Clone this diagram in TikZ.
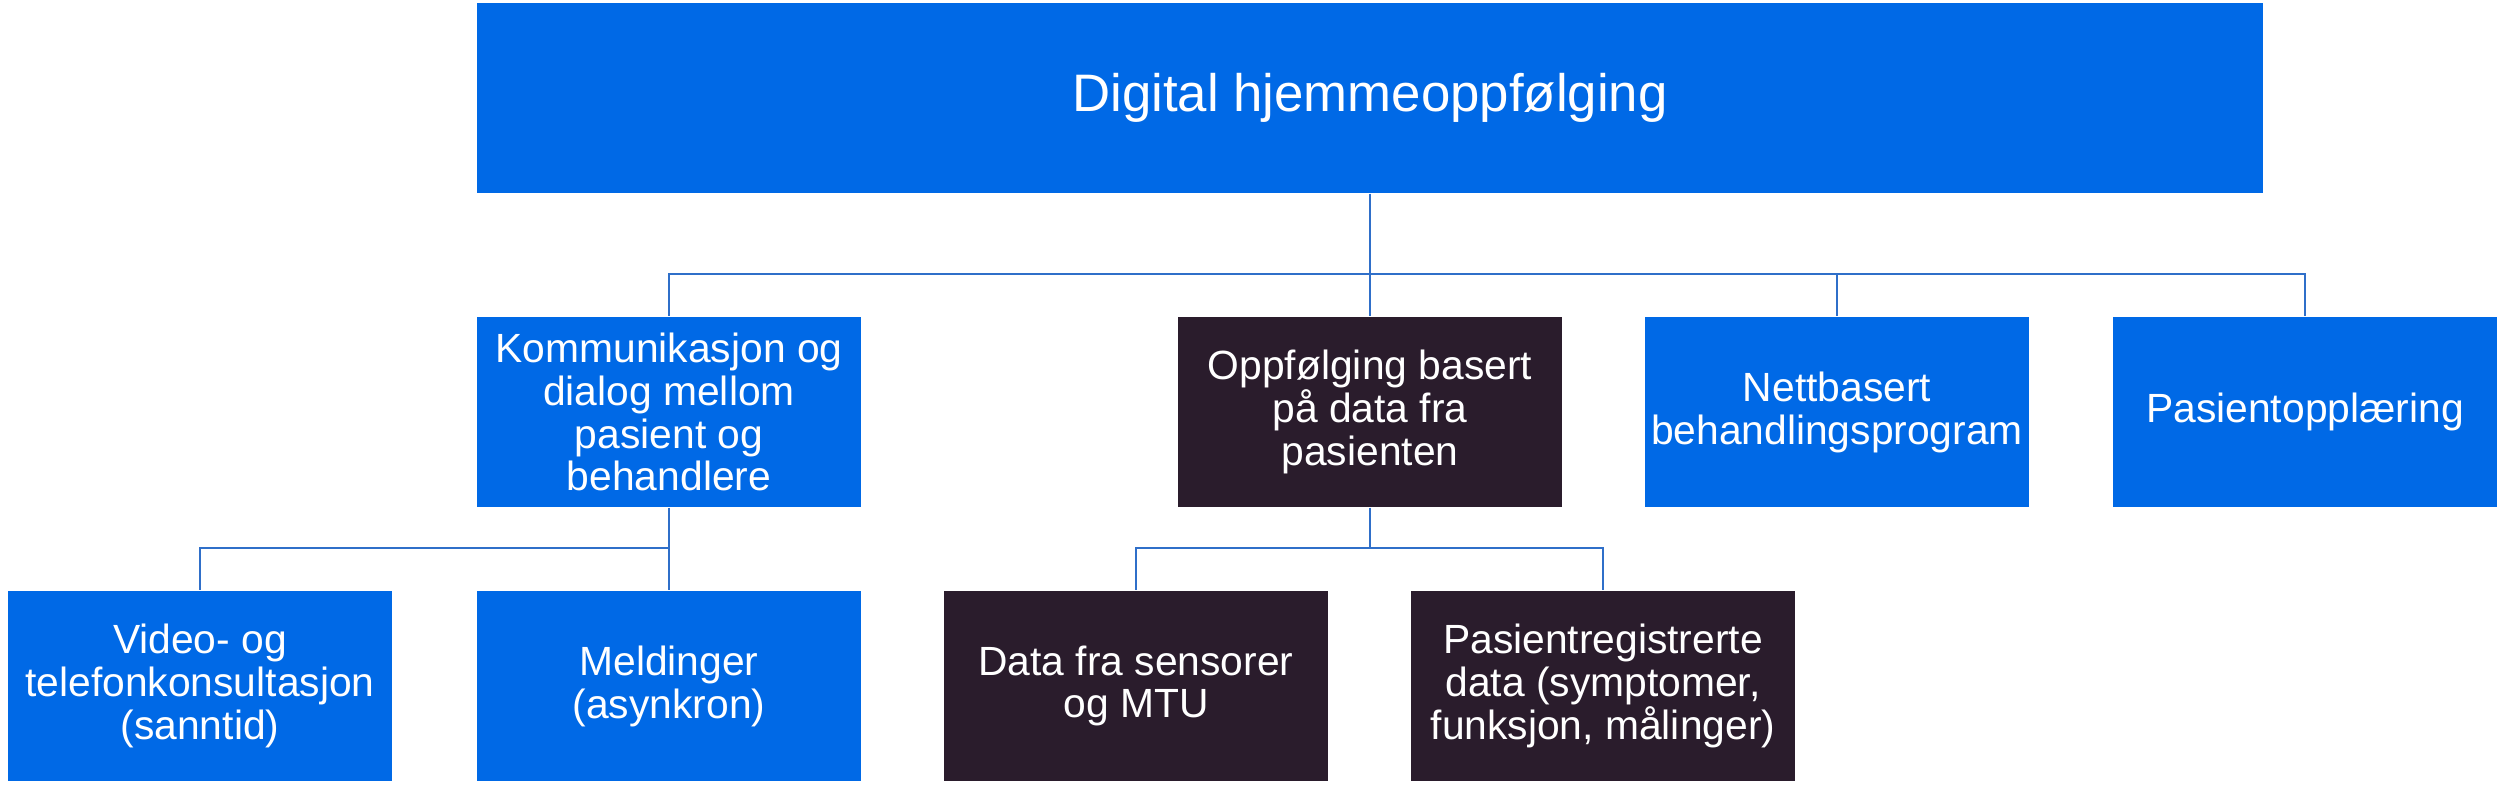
\documentclass[tikz,border=0pt]{standalone}
\usepackage{fontspec}
\setmainfont{Liberation Sans}
\usepackage{tikz}
\usetikzlibrary{calc}
\definecolor{hjemblue}{HTML}{0069E6}
\definecolor{hjemdark}{HTML}{2A1C2C}
\definecolor{linkblue}{HTML}{2F6FC9}
\tikzset{box/.style={rectangle, draw=white, line width=0.3pt, text=white, align=center, inner sep=0pt, minimum width=3.84cm, minimum height=1.9cm, font=\fontsize{11.6}{12.2}\selectfont}, blue box/.style={box, fill=hjemblue}, dark box/.style={box, fill=hjemdark}, link/.style={draw=linkblue, line width=0.6pt}}

\begin{document}
\begin{tikzpicture}[x=0.01cm,y=-0.01cm]
\useasboundingbox (0,0) rectangle (2500,784);
\node[blue box, minimum width=17.86cm, font=\fontsize{15}{16}\selectfont] (top) at (1370,98) {Digital hjemmeoppfølging};
\node[blue box] (kom) at (669,412) {Kommunikasjon og\\dialog mellom\\pasient og\\behandlere};
\node[dark box] (opp) at (1370,412) {Oppfølging basert\\på data fra\\pasienten};
\node[blue box] (nett) at (1837,412) {Nettbasert\\behandlingsprogram};
\node[blue box] (opl) at (2305,412) {Pasientopplæring};
\node[blue box] (video) at (200,686) {Video- og\\telefonkonsultasjon\\(sanntid)};
\node[blue box] (meld) at (669,686) {Meldinger\\(asynkron)};
\node[dark box] (sens) at (1136,686) {Data fra sensorer\\og MTU};
\node[dark box] (preg) at (1603,686) {Pasientregistrerte\\data (symptomer,\\funksjon, målinger)};
\coordinate (bus) at (1370,274);
\coordinate (kbus) at (669,548);
\coordinate (obus) at (1370,548);
\draw[link] (top.south) -- (opp.north);
\foreach \n in {kom,nett,opl}
\draw[link] (bus) -| (\n.north);
\draw[link] (kom.south) -- (meld.north);
\draw[link] (kbus) -| (video.north);
\draw[link] (opp.south) -- (obus);
\foreach \n in {sens,preg}
\draw[link] (obus) -| (\n.north);
\end{tikzpicture}
\end{document}
